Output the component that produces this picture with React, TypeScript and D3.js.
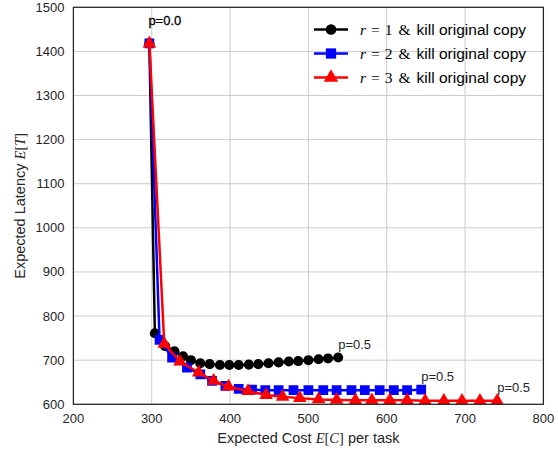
import React from "react";
import * as d3 from "d3";

const costR1 = [297, 304, 317, 329, 340, 350, 362, 374, 387, 399, 411, 424, 436, 449, 462, 475, 487, 500, 513, 525, 538];
const latR1 = [1418, 761, 732, 720, 709, 700, 693, 691, 689, 689, 689, 690, 691, 693, 695, 697, 698, 700, 702, 704, 706];

const costR2 = [297, 310, 326, 345, 362, 377, 394, 411, 428, 445, 462, 481, 500, 519, 536, 555, 572, 591, 609, 626, 644];
const latR2 = [1418, 746, 706, 683, 668, 653, 642, 635, 633, 632, 632, 632, 632, 632, 632, 632, 632, 632, 632, 632, 633];

const costR3 = [297, 316, 336, 360, 379, 398, 423, 446, 467, 489, 513, 536, 560, 581, 604, 626, 649, 673, 696, 719, 741];
const latR3 = [1418, 737, 697, 672, 653, 640, 630, 621, 617, 614, 611, 610, 609, 609, 609, 609, 608, 608, 608, 608, 608];

const xTicks = [200, 300, 400, 500, 600, 700, 800];
const yTicks = [600, 700, 800, 900, 1000, 1100, 1200, 1300, 1400, 1500];

const seriesNames = ["1", "2", "3"];
const seriesColors = ["#000000", "#0000ff", "#ff0000"];
const seriesSymbols = [d3.symbolCircle, d3.symbolSquare, d3.symbolTriangle];
const symbolSizes = [80, 95, 80];

const SANS = "'Liberation Sans', Arial, sans-serif";
const SERIF = "'Liberation Serif', 'DejaVu Serif', serif";

export default function App() {
  const W = 558, H = 453;
  const x = d3.scaleLinear().domain([200, 800]).range([73.4, 543.4]);
  const y = d3.scaleLinear().domain([600, 1500]).range([404.3, 7.3]);
  const series = [
    { c: costR1, l: latR1 },
    { c: costR2, l: latR2 },
    { c: costR3, l: latR3 },
  ];
  const line = d3.line<[number, number]>().x((d) => x(d[0])).y((d) => y(d[1]));
  const x0 = x(200), x1 = x(800), y0 = y(600), y1 = y(1500);
  const textCol = "#262626";

  return (
    <svg width={W} height={H} style={{ position: "absolute", left: 0, top: 0, background: "#fff" }}>
      <defs>
        <clipPath id="plotclip">
          <rect x={x0} y={y1} width={x1 - x0} height={y0 - y1} />
        </clipPath>
      </defs>
      {xTicks.map((t) => (
        <line key={"gx" + t} x1={x(t)} x2={x(t)} y1={y1} y2={y0} stroke="#cccccc" strokeWidth={1} />
      ))}
      {yTicks.map((t) => (
        <line key={"gy" + t} x1={x0} x2={x1} y1={y(t)} y2={y(t)} stroke="#cccccc" strokeWidth={1} />
      ))}
      <g clipPath="url(#plotclip)">
        {series.map((s, i) => {
          const pts: [number, number][] = s.c.map((c, k) => [c, s.l[k]]);
          const sym = d3.symbol().type(seriesSymbols[i]).size(symbolSizes[i])();
          return (
            <g key={"s" + i}>
              <path d={line(pts) || ""} fill="none" stroke={seriesColors[i]} strokeWidth={2.5} strokeLinejoin="round" />
              {pts.map((p, k) => (
                <path key={k} d={sym || ""} transform={`translate(${x(p[0])},${y(p[1])})`} fill={seriesColors[i]} />
              ))}
            </g>
          );
        })}
      </g>
      <rect x={x0} y={y1} width={x1 - x0} height={y0 - y1} fill="none" stroke="#262626" strokeWidth={1.25} />
      {xTicks.map((t) => (
        <text key={"tx" + t} x={x(t)} y={y0 + 19} textAnchor="middle" fontFamily={SANS} fontSize={13} fill={textCol}>
          {t}
        </text>
      ))}
      {yTicks.map((t) => (
        <text key={"ty" + t} x={x0 - 9} y={y(t) + 4.5} textAnchor="end" fontFamily={SANS} fontSize={13} fill={textCol}>
          {t}
        </text>
      ))}
      <text x={(x0 + x1) / 2} y={443} textAnchor="middle" fontFamily={SANS} fontSize={14.5} fill={textCol}>
        Expected Cost{" "}
        <tspan fontFamily={SERIF} fontStyle="italic">E</tspan>
        <tspan fontFamily={SERIF}>[</tspan>
        <tspan fontFamily={SERIF} fontStyle="italic">C</tspan>
        <tspan fontFamily={SERIF}>]</tspan> per task
      </text>
      <text
        transform={`translate(25,${(y0 + y1) / 2}) rotate(-90)`}
        textAnchor="middle"
        fontFamily={SANS}
        fontSize={14.5}
        fill={textCol}
      >
        Expected Latency{" "}
        <tspan fontFamily={SERIF} fontStyle="italic">E</tspan>
        <tspan fontFamily={SERIF}>[</tspan>
        <tspan fontFamily={SERIF} fontStyle="italic">T</tspan>
        <tspan fontFamily={SERIF}>]</tspan>
      </text>
      <text x={x(costR2[0]) - 1} y={25} fontFamily={SANS} fontSize={13} fill="#000" stroke="#000" strokeWidth={0.3}>p=0.0</text>
      {series.map((s, i) => {
        const n = s.c.length - 1;
        return (
          <text key={"p" + i} x={x(s.c[n])} y={y(s.l[n]) - 8.5} fontFamily={SANS} fontSize={13} fill={textCol}>
            p=0.5
          </text>
        );
      })}
      {seriesNames.map((nm, i) => {
        const ly = 29.5 + i * 24;
        const sym = d3.symbol().type(seriesSymbols[i]).size(symbolSizes[i] + 10)();
        return (
          <g key={"lg" + i}>
            <line x1={314} x2={348} y1={ly} y2={ly} stroke={seriesColors[i]} strokeWidth={2.5} />
            <path d={sym || ""} transform={`translate(331,${ly})`} fill={seriesColors[i]} />
            <text x={360} y={ly + 5.5} fontFamily={SANS} fontSize={15.5} fill="#000">
              <tspan fontFamily={SERIF} fontStyle="italic">r</tspan>
              <tspan fontFamily={SERIF} dx={5}>=</tspan>
              <tspan fontFamily={SERIF} dx={5}>{nm}</tspan>
              <tspan fontFamily={SERIF} dx={6}>&amp;</tspan>
              <tspan dx={6}>kill original copy</tspan>
            </text>
          </g>
        );
      })}
    </svg>
  );
}
